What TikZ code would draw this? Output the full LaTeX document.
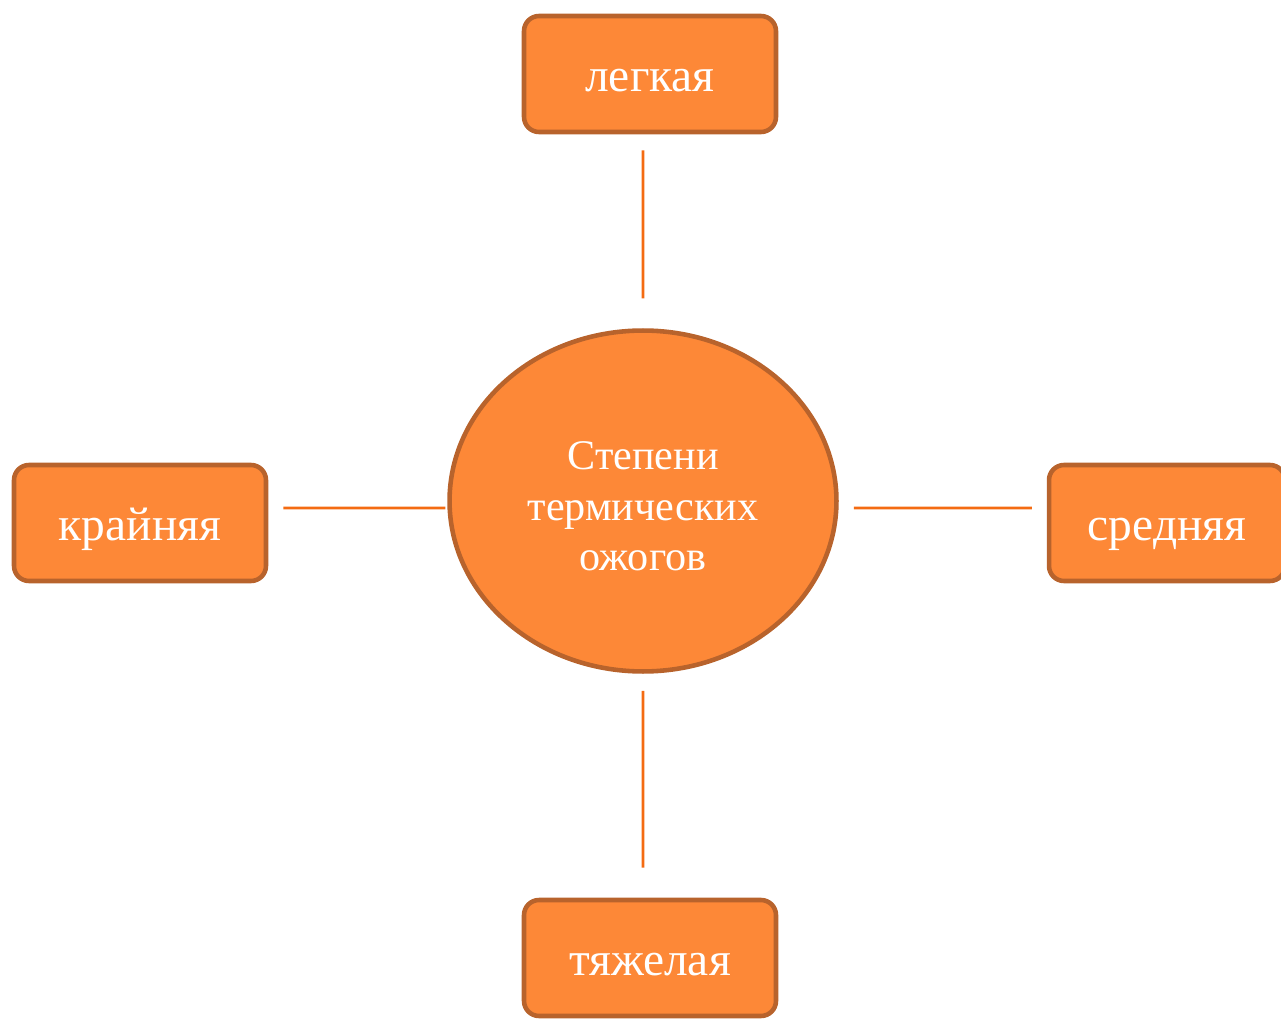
\documentclass[tikz,border=0pt]{standalone}
\usepackage{fontspec}
\setmainfont{Liberation Serif}
\usepackage{tikz}
\usetikzlibrary{shapes.geometric}
\definecolor{burnfill}{HTML}{FD8837}
\definecolor{burnedge}{HTML}{B8632C}
\definecolor{burnline}{HTML}{F46B12}
\tikzset{
    degree/.style={draw=burnedge, line width=2.6pt, fill=burnfill, rounded corners=0.3cm,
        minimum width=5.04cm, minimum height=2.32cm, inner sep=0pt,
        text=white, font=\fontsize{27}{32}\selectfont, text height=20pt, text depth=0pt},
    hub/.style={ellipse, draw=burnedge, line width=2.6pt, fill=burnfill,
        minimum width=7.74cm, minimum height=6.82cm, inner sep=0pt,
        text=white, font=\fontsize{24}{29}\selectfont, align=center},
    link/.style={draw=burnline, line width=1.6pt}
}
\begin{document}
\begin{tikzpicture}[x=0.02cm, y=-0.02cm]
        \useasboundingbox (0,0) rectangle (1281,1020);
        %%Centre
        \node[hub] (burns) at (643,501) {\\[-0.25cm]Степени\\термических\\ожогов};
        %%Degrees
        \node[degree] (light) at (650,74) {легкая};
        \node[degree, minimum width=4.72cm] (medium) at (1167,523) {средняя};
        \node[degree] (heavy) at (650,958) {тяжелая};
        \node[degree] (extreme) at (140,523) {крайняя};
        %%Links
        \draw[link] ([xshift=-0.14cm, yshift=-0.32cm]light.south) -- ([yshift=0.6cm]burns.north);
        \draw[link] ([yshift=-0.34cm]burns.south) -- ([xshift=-0.14cm, yshift=0.6cm]heavy.north);
        \draw[link] ([xshift=0.3cm, yshift=0.3cm]extreme.east) -- ([xshift=-0.04cm, yshift=-0.14cm]burns.west);
        \draw[link] ([xshift=0.3cm, yshift=-0.14cm]burns.east) -- ([xshift=-0.3cm, yshift=0.3cm]medium.west);
\end{tikzpicture}
\end{document}
